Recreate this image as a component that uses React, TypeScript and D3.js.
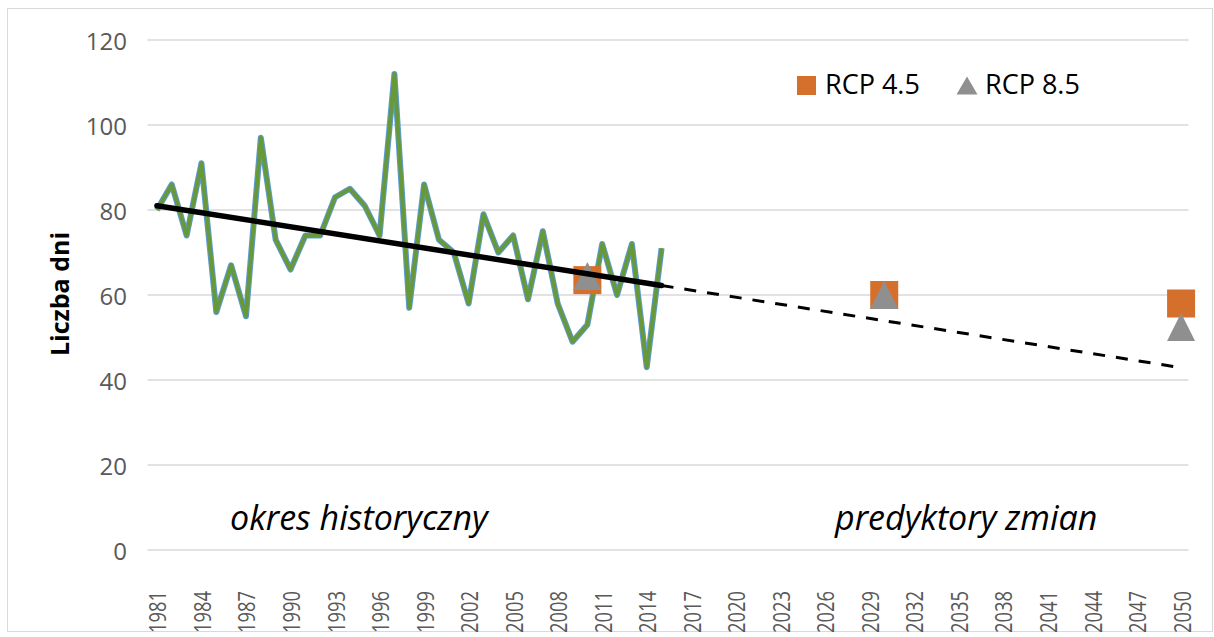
import React from "react";
import * as d3 from "d3";

const years: number[] = d3.range(1981, 2051);
const histYears: number[] = d3.range(1981, 2016);
const histValues: number[] = [
  80, 86, 74, 91, 56, 67, 55, 97, 73, 66, 74, 74, 83, 85, 81, 74, 112, 57, 86, 73,
  70, 58, 79, 70, 74, 59, 75, 58, 49, 53, 72, 60, 72, 43, 71,
];
const rcpYears: number[] = [2010, 2030, 2050];
const rcp45: number[] = [63.5, 60, 58];
const rcp85: number[] = [64.5, 60, 52.5];
const yTicks: number[] = [0, 20, 40, 60, 80, 100, 120];
const xTickYears: number[] = d3.range(1981, 2051, 3);

const W = 1214;
const H = 637;
const left = 149.5;
const right = 1188.5;
const top = 40;
const bottom = 550;

const FONT = "'Open Sans', 'DejaVu Sans', sans-serif";

export default function App() {
  const x = d3.scaleLinear().domain([1980.5, 2050.5]).range([left, right]);
  const y = d3.scaleLinear().domain([0, 120]).range([bottom, top]);

  // least squares trendline over the historical data
  const n = histYears.length;
  const mx = d3.mean(histYears) as number;
  const my = d3.mean(histValues) as number;
  let sxy = 0;
  let sxx = 0;
  histYears.forEach((yr, i) => {
    sxy += (yr - mx) * (histValues[i] - my);
    sxx += (yr - mx) * (yr - mx);
  });
  const slope = sxy / sxx;
  const trend = (yr: number) => my + slope * (yr - mx);
  const firstY = histYears[0];
  const lastY = histYears[n - 1];
  const endY = years[years.length - 1];

  const line = d3
    .line<number>()
    .x((_, i) => x(histYears[i]))
    .y((v) => y(v));
  const pathD = line(histValues) || "";

  const sq = 28;
  const tri = (cx: number, cy: number, w: number, h: number) =>
    `M${cx},${cy - h / 2}L${cx + w / 2},${cy + h / 2}L${cx - w / 2},${cy + h / 2}Z`;

  return (
    <svg
      width={W}
      height={H}
      style={{ position: "absolute", left: 0, top: 0, background: "#fff" }}
    >
      <rect x={0} y={0} width={W} height={H} fill="#fff" />
      <rect x={7.5} y={8.5} width={1205} height={623} fill="none" stroke="#d9d9d9" strokeWidth={1} />

      {/* gridlines */}
      {yTicks.map((t) => (
        <line key={t} x1={left - 2} x2={right} y1={y(t)} y2={y(t)} stroke="#d9d9d9" strokeWidth={1.5} />
      ))}

      {/* y tick labels */}
      {yTicks.map((t) => (
        <text
          key={t}
          x={127}
          y={y(t)}
          textAnchor="end"
          dominantBaseline="central"
          fontFamily={FONT}
          fontSize={24}
          fill="#595959"
        >
          {t}
        </text>
      ))}

      {/* x tick labels */}
      {xTickYears.map((yr) => (
        <text
          key={yr}
          transform={`translate(${x(yr)},591) rotate(-90)`}
          textAnchor="end"
          dominantBaseline="central"
          fontFamily={FONT}
          fontSize={24}
          textLength={42}
          lengthAdjust="spacingAndGlyphs"
          fill="#595959"
        >
          {yr}
        </text>
      ))}

      {/* y axis title */}
      <text
        transform={`translate(59,294) rotate(-90)`}
        textAnchor="middle"
        dominantBaseline="central"
        fontFamily={FONT}
        fontSize={25}
        fontWeight="bold"
        fill="#000"
      >
        Liczba dni
      </text>

      {/* historical series */}
      <path d={pathD} fill="none" stroke="#5b9bd5" strokeWidth={6} strokeLinejoin="round" />
      <path d={pathD} fill="none" stroke="#67993b" strokeWidth={4} strokeLinejoin="round" />

      {/* RCP markers */}
      {rcpYears.map((yr, i) => (
        <rect
          key={"s" + yr}
          x={x(yr) - sq / 2}
          y={y(rcp45[i]) - sq / 2}
          width={sq}
          height={sq}
          fill="#d5702c"
        />
      ))}
      {rcpYears.map((yr, i) => (
        <path key={"t" + yr} d={tri(x(yr), y(rcp85[i]), 28, 28)} fill="#8f8f8f" />
      ))}

      {/* trendline */}
      <line
        x1={x(firstY)}
        y1={y(trend(firstY))}
        x2={x(lastY)}
        y2={y(trend(lastY))}
        stroke="#000"
        strokeWidth={5.5}
        strokeLinecap="round"
      />
      <line
        x1={x(lastY)}
        y1={y(trend(lastY))}
        x2={x(endY)}
        y2={y(trend(endY))}
        stroke="#000"
        strokeWidth={3}
        strokeDasharray="12 11"
      />

      {/* legend */}
      <rect x={797} y={76} width={19} height={19} fill="#d5702c" />
      <text x={825} y={94} fontFamily={FONT} fontSize={27} fill="#000">
        RCP 4.5
      </text>
      <path d={tri(967, 85.5, 21, 18)} fill="#8f8f8f" />
      <text x={985} y={94} fontFamily={FONT} fontSize={27} fill="#000">
        RCP 8.5
      </text>

      {/* annotations */}
      <text x={230} y={530} fontFamily={FONT} fontSize={34} fontStyle="italic" fill="#000">
        okres historyczny
      </text>
      <text x={835} y={530} fontFamily={FONT} fontSize={34} fontStyle="italic" fill="#000">
        predyktory zmian
      </text>
    </svg>
  );
}
